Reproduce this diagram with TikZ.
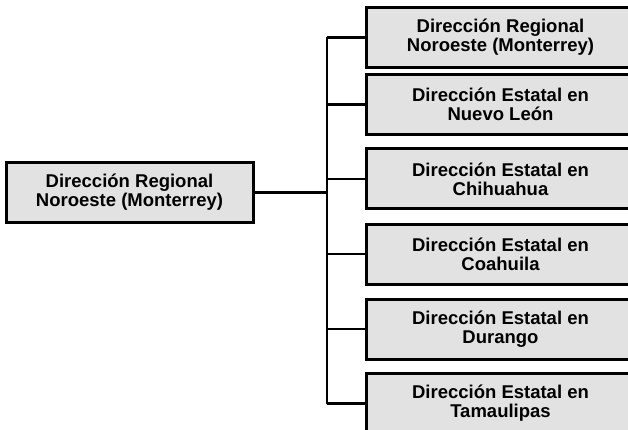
\documentclass[tikz,border=0pt]{standalone}
\usepackage{fontspec}
\setmainfont{Liberation Sans}
\usetikzlibrary{positioning}
\definecolor{Stipple}{HTML}{E2E2E2}
\tikzset{
  orgbox/.style={draw=black, line width=3pt, fill=Stipple, align=center, inner sep=0pt, font=\fontsize{18.5}{19}\selectfont\bfseries},
  rootbox/.style={orgbox, minimum width=247pt, minimum height=59pt},
  unitbox/.style={orgbox, minimum width=268pt, minimum height=60pt},
  link/.style={line width=2.2pt, draw=black}
}

\begin{document}
\begin{tikzpicture}[x=1pt,y=-1pt]
\useasboundingbox (0,0) rectangle (628,430);
\node[rootbox] (root) at (129.5,192.5) {Dirección Regional\\Noroeste (Monterrey)};
\foreach \i/\yc/\txt in {1/37.5/{Dirección Regional\\Noroeste (Monterrey)},
                         2/104.5/{Dirección Estatal en\\Nuevo León},
                         3/179/{Dirección Estatal en\\Chihuahua},
                         4/254/{Dirección Estatal en\\Coahuila},
                         5/329/{Dirección Estatal en\\Durango},
                         6/403.5/{Dirección Estatal en\\Tamaulipas}}
  \node[unitbox, anchor=west] (unit\i) at (365,\yc) {\txt};
\coordinate (trunk) at (327,192.5);
\draw[link] (root.east) -- (trunk);
\draw[link] (unit1.west -| trunk) -- (unit6.west -| trunk);
\foreach \i in {1,...,6} \draw[link] (unit\i.west -| trunk) -- (unit\i.west);
\end{tikzpicture}
\end{document}
